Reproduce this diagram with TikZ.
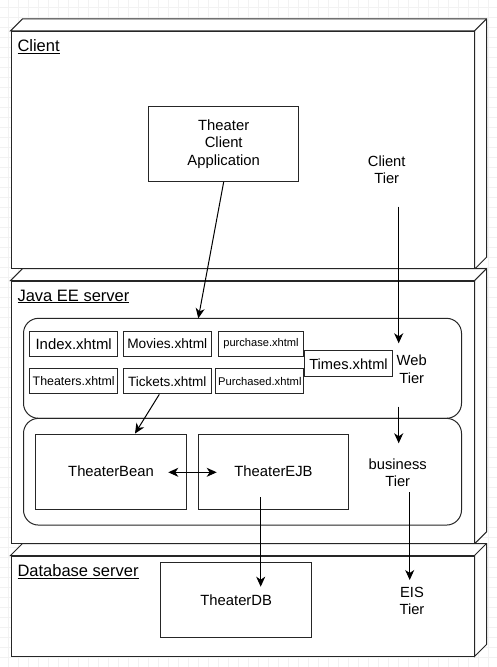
\documentclass[tikz,border=0pt]{standalone}
\usepackage{fontspec}
\setmainfont{Liberation Sans}
\usetikzlibrary{arrows.meta}

\begin{document}
\begin{tikzpicture}[x=1pt, y=-1pt, line width=1pt]
\tikzstyle{gridln}=[draw=black!5, line width=0.5pt]
\tikzstyle{front}=[draw=black!85, fill=white, minimum width=463pt, inner sep=0pt]
\tikzstyle{tier}=[draw=black!85, fill=white, rounded corners=15pt,
                        minimum width=438pt, inner sep=0pt]
\tikzstyle{comp}=[draw=black!85, fill=white, minimum width=150.5pt, minimum height=75.3pt,
                        inner sep=0pt, align=center, font=\fontsize{14.8}{17.5}\selectfont]
\tikzstyle{page}=[draw=black!85, fill=white, minimum width=88pt, minimum height=25.3pt,
                        inner sep=0pt]
\tikzstyle{lbl}=[anchor=base west, inner sep=0pt, font=\fontsize{16.5}{18}\selectfont]
\tikzstyle{tiertxt}=[align=center, inner sep=0pt, font=\fontsize{14.7}{17.5}\selectfont]
\tikzstyle{arr}=[-{Stealth[length=10pt, width=9pt, inset=3pt]}, line width=1pt]
\useasboundingbox (0,0) rectangle (496,667);
\draw[gridln, step=10pt, xshift=-2pt, yshift=-7pt] (0,-10) grid (510,690);

% nodes (3D boxes)
	\node[front, minimum height=237.4pt] (cl) at (242.5,150){};
	\node[front, minimum height=262.3pt] (je) at (242.5,412.2){};
	\node[front, minimum height=100pt] (db) at (242.5,606){};
\foreach \n in {cl,je,db}{
	\draw[draw=black!85, fill=white] (\n.north west) -- ++(12,-12)
		-| ([shift={(12pt,12pt)}]\n.south east) -- (\n.south east) -- (\n.north east) -- cycle;
	\draw[draw=black!85] (\n.north east) -- ++(12,-12);
}
	\node[lbl] (lcl) at (17,51.5){\underline{Client}};
	\node[lbl] (lje) at (17,301){\underline{Java EE server}};
	\node[lbl] (ldb) at (17,576.5){\underline{Database server}};

% tiers
	\node[tier, minimum height=100pt] (web) at (242.5,368.3){};
	\node[tier, minimum height=106.7pt] (biz) at (242.5,471.7){};

% components
	\node[comp] (tca) at (223.7,143.7){Theater\\Client\\Application};
	\node[comp] (tb) at (111,471.7){TheaterBean};
	\node[comp] (ejb) at (273.5,471.7){TheaterEJB};
	\node[comp] (tdb) at (236.2,600){TheaterDB};

% pages
	\node[page, font=\fontsize{14.9}{16}\selectfont] (idx) at (73.7,343.7){Index.xhtml};
	\node[page, font=\fontsize{13.7}{16}\selectfont] (mov) at (167.3,343.7){Movies.xhtml};
	\node[page, minimum width=85.4pt, font=\fontsize{11.1}{13}\selectfont] (pur) at (261,343.7){purchase.xhtml};
	\node[page, font=\fontsize{12.4}{14}\selectfont] (thr) at (73.7,381.2){Theaters.xhtml};
	\node[page, font=\fontsize{13.5}{16}\selectfont] (tk) at (167.3,381.2){Tickets.xhtml};
	\node[page, minimum width=87.7pt, font=\fontsize{11.2}{13}\selectfont] (pd) at (259.8,381.2){Purchased.xhtml};
	\node[page, minimum width=88.4pt, minimum height=25.7pt, font=\fontsize{14.65}{16}\selectfont] (tim) at (348.5,363.8){Times.xhtml};

% tier names
	\node[tiertxt] (tcl) at (386.7,169.5){Client\\Tier};
	\node[tiertxt] (twb) at (411.7,369.3){Web\\Tier};
	\node[tiertxt] (tbz) at (397.7,472.5){business\\Tier};
	\node[tiertxt] (tei) at (412,601){EIS\\Tier};

% arrows
	\coordinate (w1) at (198.3,318.3);
	\coordinate (c1) at (398.7,206.7);
	\coordinate (c2) at (398.7,343.3);
	\coordinate (b1) at (398.7,406.7);
	\coordinate (b2) at (398.7,443.3);
	\coordinate (e1) at (409.7,492.3);
	\coordinate (e2) at (409.7,580);
	\coordinate (d1) at (260.7,497.3);
	\coordinate (d2) at (260.7,586.7);
\draw[arr] (tca.south) -- (w1);
\draw[arr] (c1) -- (c2);
\draw[arr] (b1) -- (b2);
\draw[arr] (e1) -- (e2);
\draw[arr] (d1) -- (d2);
\draw[arr] ([xshift=-8pt]tk.south) -- ([xshift=24pt]tb.north);
\draw[{Stealth[length=10pt, width=9pt, inset=3pt]}-{Stealth[length=10pt, width=9pt, inset=3pt]}]
	([xshift=57.3pt,yshift=-0.6pt]tb.center) -- ([xshift=-56.8pt,yshift=-0.6pt]ejb.center);
\end{tikzpicture}
\end{document}
